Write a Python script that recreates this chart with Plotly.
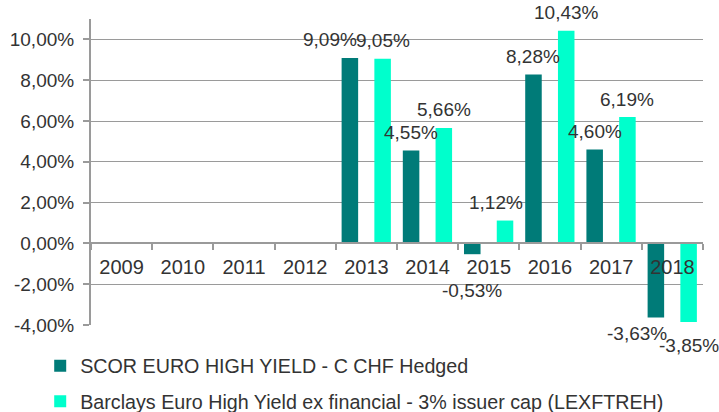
import plotly.graph_objects as go

years = ["2009", "2010", "2011", "2012", "2013", "2014", "2015", "2016", "2017", "2018"]
scor_name = "SCOR EURO HIGH YIELD - C CHF Hedged"
bench_name = "Barclays Euro High Yield ex financial - 3% issuer cap (LEXFTREH)"
scor_values = [None, None, None, None, 9.09, 4.55, -0.53, 8.28, 4.60, -3.63]
bench_values = [None, None, None, None, 9.05, 5.66, 1.12, 10.43, 6.19, -3.85]

y_ticks = [-4, -2, 0, 2, 4, 6, 8, 10]

DARK = "#007B78"
LIGHT = "#00FFCC"
TXT = "#333333"
GRID = "#9A9A9A"
FONT = "Liberation Sans, Arial, sans-serif"

BW = 0.27
C_DARK = -0.27
C_LIGHT = 0.265

# manual label nudges (px) for a few Excel-placed labels: (series, year) -> (dx, dy)
nudges = {("s", "2013"): (-20, 0), ("s", "2015"): (0, -18), ("s", "2018"): (-19, 2),
          ("b", "2015"): (-9, 0), ("b", "2018"): (0, -6)}


def fmt(v):
    return f"{v:.2f}".replace(".", ",") + "%"


fig = go.Figure()
fig.add_trace(go.Bar(x=years, y=scor_values, name=scor_name, marker_color=DARK,
                     marker_line_width=0, width=BW, offset=C_DARK - BW / 2,
                     legendgroup="a"))
fig.add_trace(go.Bar(x=years, y=bench_values, name=bench_name, marker_color=LIGHT,
                     marker_line_width=0, width=BW, offset=C_LIGHT - BW / 2,
                     legendgroup="b"))

annotations = []
for key, vals, c in (("s", scor_values, C_DARK), ("b", bench_values, C_LIGHT)):
    for i, (yr, v) in enumerate(zip(years, vals)):
        if v is None:
            continue
        dx, dy = nudges.get((key, yr), (0, 0))
        annotations.append(dict(
            x=i + c, y=v, xref="x", yref="y", text=fmt(v), showarrow=False,
            xanchor="center", yanchor="middle",
            xshift=dx, yshift=(18 if v >= 0 else -18) + dy,
            font=dict(family=FONT, size=19, color=TXT)))

fig.update_layout(
    width=719, height=412,
    margin=dict(l=91, r=16, t=19, b=87, autoexpand=False),
    paper_bgcolor="white", plot_bgcolor="white",
    barmode="overlay",
    font=dict(family=FONT, size=19, color=TXT),
    annotations=annotations,
    showlegend=True,
    legend=dict(orientation="v", x=-0.083, xanchor="left", y=-0.07, yanchor="top",
                font=dict(family=FONT, size=19.7, color=TXT), tracegroupgap=7,
                itemwidth=30, bgcolor="rgba(0,0,0,0)"),
    xaxis=dict(type="category", anchor="free", position=4 / 15,
               range=[-0.5, 9.5], showline=True, linecolor=GRID, linewidth=2,
               ticks="outside", tickson="boundaries", ticklen=6, tickcolor=GRID,
               tickwidth=1.5, showgrid=False, ticklabelstandoff=6,
               tickfont=dict(family=FONT, size=20, color=TXT)),
    yaxis=dict(range=[-4, 11], domain=[0, 1], tickvals=y_ticks,
               ticktext=[fmt(v) for v in y_ticks], showline=True, linecolor=GRID,
               linewidth=2, ticks="outside", ticklen=6, tickcolor=GRID, tickwidth=1.5,
               ticklabelstandoff=5,
               showgrid=True, gridcolor=GRID, gridwidth=1.2, zeroline=False,
               tickfont=dict(family=FONT, size=19, color=TXT)),
)

fig.write_html("out.html")
